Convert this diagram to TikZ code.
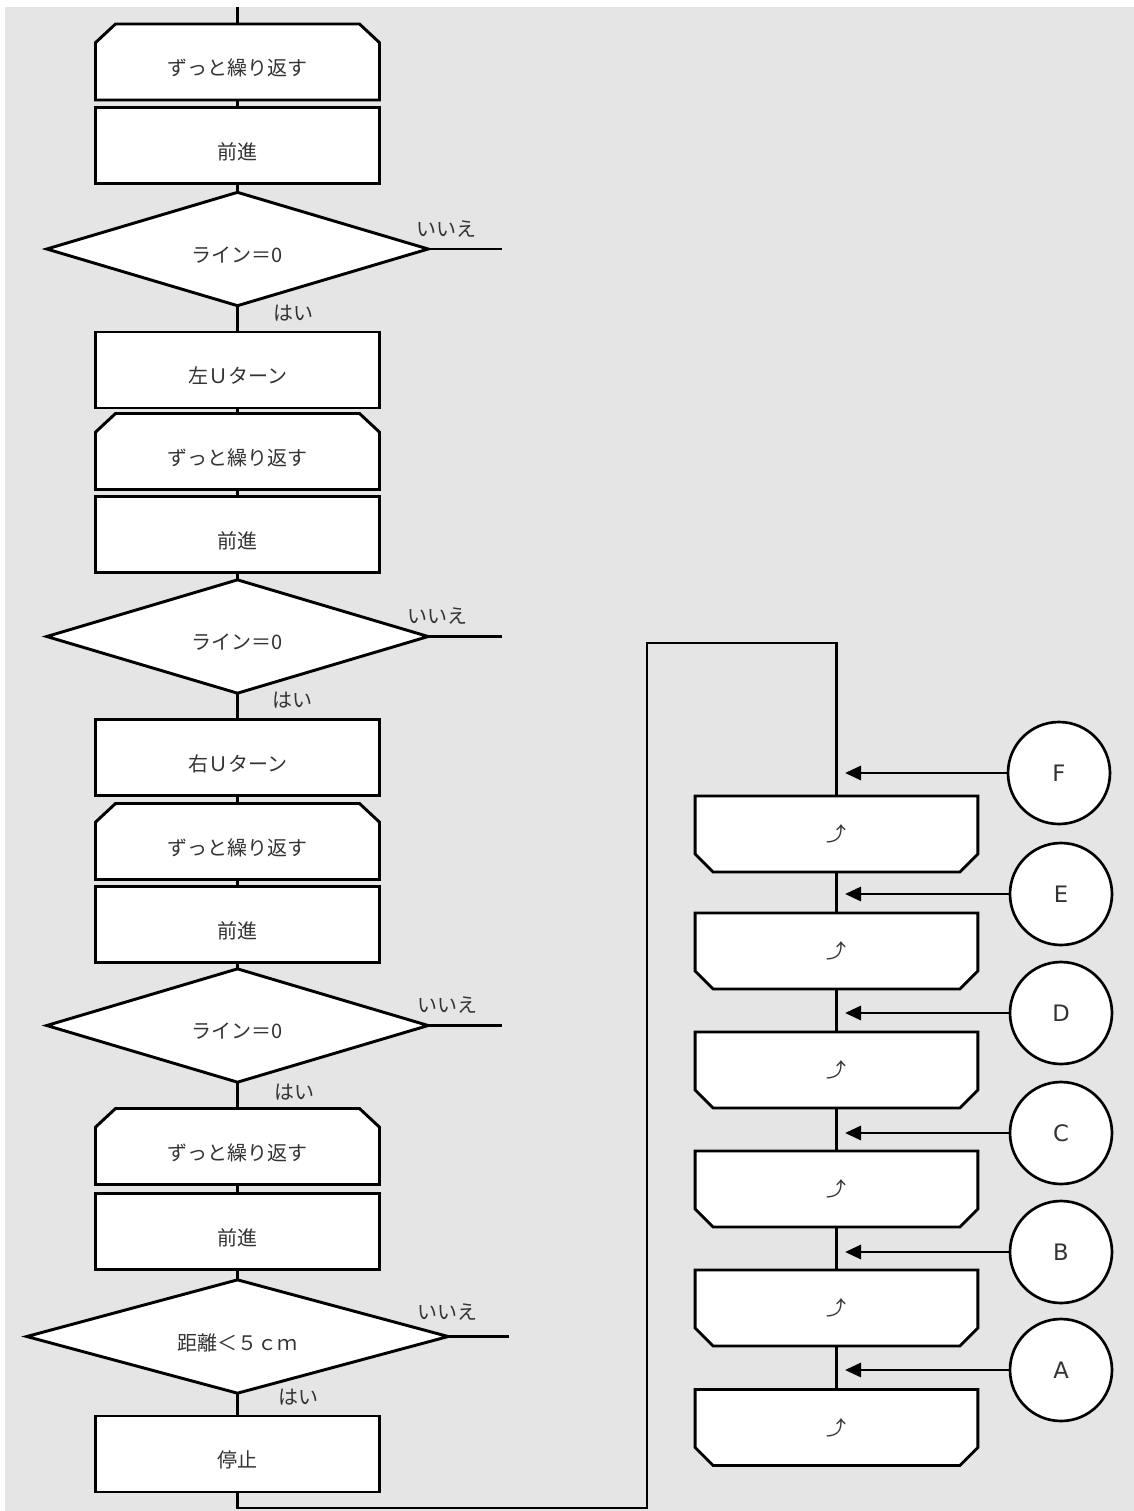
\documentclass[tikz,border=0pt]{standalone}
\usepackage{fontspec}
\newfontfamily\jp{Noto Sans CJK JP}
\newfontfamily\dv{DejaVu Sans}
\usetikzlibrary{shapes.geometric,arrows.meta}
\definecolor{bggray}{HTML}{E5E5E5}
\definecolor{txt}{HTML}{333333}
\pgfdeclarelayer{bglayer}
\pgfdeclarelayer{shapelayer}
\pgfsetlayers{bglayer,shapelayer,main}
\begin{document}
\begin{tikzpicture}[x=0.75pt,y=-0.75pt,
  every node/.style={font=\jp\fontsize{15}{18}\selectfont, text=txt},
  shp/.style={draw=black, fill=white, line width=2.2pt, inner sep=0pt, outer sep=0pt},
  procbox/.style={shp, rectangle, minimum width=213pt, minimum height=57pt},
  loopbox/.style={rectangle, inner sep=0pt, outer sep=0pt, minimum width=213pt, minimum height=57pt},
  loopend/.style={rectangle, inner sep=0pt, outer sep=0pt, minimum width=212pt, minimum height=57pt},
  chamf/.style={draw=black, fill=white, line width=2.2pt},
  decision/.style={shp, diamond, minimum width=286pt, minimum height=85pt},
  conn/.style={shp, circle, line width=2pt, minimum size=76.5pt, font=\dv\fontsize{17}{20}\selectfont},
  wire/.style={line width=2.2pt, draw=black},
  arr/.style={wire, -{Triangle[length=12pt,width=10.5pt]}},
  txtlbl/.style={yshift=-4.5pt},
  sym/.style={font=\jp\fontsize{15}{18}\selectfont}
]
\useasboundingbox (0,0) rectangle (1134,1511);
\begin{pgfonlayer}{bglayer}
\fill[white] (0,0) rectangle (1134,1511);
\fill[bggray] (5,7) rectangle (1134,1511);
\end{pgfonlayer}

% left column
\node[loopbox, label={[txtlbl]center:ずっと繰り返す}] (L1) at (237.5,62) {};
\node[procbox, label={[txtlbl]center:前進}] (P1) at (237.5,145.5) {};
\node[decision, label={[txtlbl]center:ライン＝0}] (D1) at (237.5,249) {};
\node[procbox, label={[txtlbl]center:左Ｕターン}] (T1) at (237.5,370) {};
\node[loopbox, label={[txtlbl]center:ずっと繰り返す}] (L2) at (237.5,451.5) {};
\node[procbox, label={[txtlbl]center:前進}] (P2) at (237.5,534.5) {};
\node[decision, label={[txtlbl]center:ライン＝0}] (D2) at (237.5,636.5) {};
\node[procbox, label={[txtlbl]center:右Ｕターン}] (T2) at (237.5,757.5) {};
\node[loopbox, label={[txtlbl]center:ずっと繰り返す}] (L3) at (237.5,841.5) {};
\node[procbox, label={[txtlbl]center:前進}] (P3) at (237.5,924.5) {};
\node[decision, label={[txtlbl]center:ライン＝0}] (D3) at (237.5,1025.5) {};
\node[loopbox, label={[txtlbl]center:ずっと繰り返す}] (L4) at (237.5,1146.5) {};
\node[procbox, label={[txtlbl]center:前進}] (P4) at (237.5,1231.5) {};
\node[decision, minimum width=316pt, label={[txtlbl]center:距離＜５ｃｍ}] (D4) at (237.5,1336.5) {};
\node[procbox, label={[txtlbl]center:停止}] (S) at (237.5,1454) {};

% branch labels
\node (n1) at (446,229) {いいえ};
\node (y1) at (293,313) {はい};
\node (n2) at (437,616) {いいえ};
\node (y2) at (292,700) {はい};
\node (n3) at (447,1005) {いいえ};
\node (y3) at (294,1092) {はい};
\node (n4) at (447,1312) {いいえ};
\node (y4) at (298,1397) {はい};

% right column
\node[loopend, label={[sym]center:⤴}] (RF) at (836.5,834) {};
\node[loopend, label={[sym]center:⤴}] (RE) at (836.5,951) {};
\node[loopend, label={[sym]center:⤴}] (RD) at (836.5,1070) {};
\node[loopend, label={[sym]center:⤴}] (RC) at (836.5,1189) {};
\node[loopend, label={[sym]center:⤴}] (RB) at (836.5,1308) {};
\node[loopend, label={[sym]center:⤴}] (RA) at (836.5,1427.5) {};

\node[conn] (cF) at (1059,773) {F};
\node[conn] (cE) at (1061,894) {E};
\node[conn] (cD) at (1061,1013) {D};
\node[conn] (cC) at (1061,1133) {C};
\node[conn] (cB) at (1061,1252) {B};
\node[conn] (cA) at (1061,1370) {A};

% chamfered outlines (loop start / loop end)
\begin{pgfonlayer}{shapelayer}
\foreach \n in {L1,L2,L3,L4}
  \draw[chamf] (\n.south west) -- ([yshift=-14pt]\n.north west) -- ([xshift=15pt]\n.north west)
    -- ([xshift=-15pt]\n.north east) -- ([yshift=-14pt]\n.north east) -- (\n.south east) -- cycle;
\foreach \n in {RF,RE,RD,RC,RB,RA}
  \draw[chamf] (\n.north west) -- ([yshift=13.5pt]\n.south west) -- ([xshift=13.5pt]\n.south west)
    -- ([xshift=-13.5pt]\n.south east) -- ([yshift=13.5pt]\n.south east) -- (\n.north east) -- cycle;
\end{pgfonlayer}

% coordinates
\coordinate (top) at (237.5,7);
\coordinate (e1) at (502,249);
\coordinate (e2) at (502,636.5);
\coordinate (e3) at (502,1025.5);
\coordinate (e4) at (509,1336.5);
\coordinate (b1) at (647,1508);
\coordinate (b2) at (836.5,643);
\coordinate (tF) at (845,773);
\coordinate (tE) at (845,894);
\coordinate (tD) at (845,1013);
\coordinate (tC) at (845,1133);
\coordinate (tB) at (845,1252);
\coordinate (tA) at (845,1370);

% connectors left
\draw[wire] (top) -- (L1.north);
\draw[wire] (L1.south) -- (P1.north);
\draw[wire] (P1.south) -- (D1.north);
\draw[wire] (D1.south) -- (T1.north);
\draw[wire] (T1.south) -- (L2.north);
\draw[wire] (L2.south) -- (P2.north);
\draw[wire] (P2.south) -- (D2.north);
\draw[wire] (D2.south) -- (T2.north);
\draw[wire] (T2.south) -- (L3.north);
\draw[wire] (L3.south) -- (P3.north);
\draw[wire] (P3.south) -- (D3.north);
\draw[wire] (D3.south) -- (L4.north);
\draw[wire] (L4.south) -- (P4.north);
\draw[wire] (P4.south) -- (D4.north);
\draw[wire] (D4.south) -- (S.north);
\draw[wire] (D1.east) -- (e1);
\draw[wire] (D2.east) -- (e2);
\draw[wire] (D3.east) -- (e3);
\draw[wire] (D4.east) -- (e4);
\draw[wire] (S.south) |- (b1) |- (b2) -- (RF.north);

% connectors right
\draw[wire] (RF.south) -- (RE.north);
\draw[wire] (RE.south) -- (RD.north);
\draw[wire] (RD.south) -- (RC.north);
\draw[wire] (RC.south) -- (RB.north);
\draw[wire] (RB.south) -- (RA.north);
\draw[arr] (cF) -- (tF);
\draw[arr] (cE) -- (tE);
\draw[arr] (cD) -- (tD);
\draw[arr] (cC) -- (tC);
\draw[arr] (cB) -- (tB);
\draw[arr] (cA) -- (tA);
\end{tikzpicture}
\end{document}
